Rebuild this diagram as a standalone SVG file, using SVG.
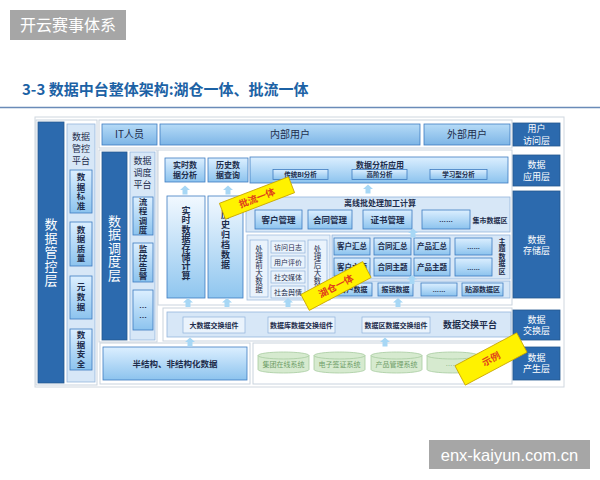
<svg xmlns="http://www.w3.org/2000/svg" width="600" height="480" viewBox="0 0 600 480">
<defs>
<linearGradient id="gL" x1="0" y1="0" x2="0" y2="1"><stop offset="0" stop-color="#dcefff"/><stop offset="1" stop-color="#8cc3ee"/></linearGradient>
<linearGradient id="gT" x1="0" y1="0" x2="0" y2="1"><stop offset="0" stop-color="#b6dbf7"/><stop offset="1" stop-color="#7db5e6"/></linearGradient>
<linearGradient id="gV" x1="0" y1="0" x2="0" y2="1"><stop offset="0" stop-color="#f2f9ff"/><stop offset="1" stop-color="#8fc6ef"/></linearGradient>
<path id="arr" d="M0,-4.5 L5,0 L2.5,0 L2.5,4.5 L-2.5,4.5 L-2.5,0 L-5,0 Z"/>
</defs>
<style>
text{font-family:"Noto Sans CJK SC","Liberation Sans",sans-serif}
.fr{fill:#fff;stroke:#c9d3de;stroke-width:1}
.dk{fill:#2c6aae;stroke:#24588f;stroke-width:.8}
.pn{fill:#d7e7f7;stroke:#95b6dc;stroke-width:.8}
.pl{fill:#e6f0fa;stroke:#a3bfdf;stroke-width:.8}
.bx{fill:url(#gL);stroke:#3e7cc0;stroke-width:.8}
.bt{fill:url(#gT);stroke:#3e7cc0;stroke-width:.8}
.bv{fill:url(#gV);stroke:#3e7cc0;stroke-width:.8}
.sb{fill:#eaf3fc;stroke:#8fb2da;stroke-width:.7}
.w{fill:#fff;text-anchor:middle}
.t{fill:#1e2d4c;text-anchor:middle;font-weight:bold}
.n{fill:#1e2d4c;text-anchor:middle}
.v{writing-mode:vertical-rl;text-anchor:middle}
.el{font-family:"Liberation Sans",sans-serif}
.cy{fill:#d6eacf;stroke:#a7cc9f;stroke-width:.8}
.ct{fill:#6f9e68;text-anchor:middle;font-size:7px}
.tag{fill:#fff200;stroke:#c9a400;stroke-width:.8}
.tt{fill:#e0401c;font-weight:bold;font-size:9.5px;text-anchor:middle}
.ar{fill:#a7d7f5}
</style>
<rect width="600" height="480" fill="#fff"/>

<g id="header">
<rect x="10" y="10" width="116" height="30" fill="#a6a6a6"/>
<text x="68" y="31" class="w" font-size="16">开云赛事体系</text>
</g>
<g id="title">
<text x="22" y="95" font-size="15" font-weight="bold" fill="#1c62a5">3-3 数据中台整体架构:湖仓一体、批流一体</text>
<line x1="0" y1="107.5" x2="600" y2="107.5" stroke="#6a8bb8" stroke-width="1.5"/>
</g>

<rect x="35" y="117" width="529" height="270" fill="none" stroke="#d0d7df"/>

<g id="mgmt-layer">
<rect x="36" y="120" width="61" height="265" class="fr"/>
<rect x="38" y="122" width="26" height="261" class="dk"/>
<text x="51" y="253" class="w v" font-size="13" letter-spacing="1">数据管控层</text>
</g>
<g id="mgmt-platform">
<rect x="67" y="124" width="28" height="258" class="pn"/>
<text x="81" y="140.2" class="n" font-size="9">数据</text>
<text x="81" y="152.2" class="n" font-size="9">管控</text>
<text x="81" y="164.2" class="n" font-size="9">平台</text>
</g>
<g id="data-standard">
<rect x="70" y="170" width="22" height="43" class="bx"/>
<text x="81" y="192" class="t v" font-size="8.5" letter-spacing="1">数据标准</text>
</g>
<g id="data-quality">
<rect x="70" y="222" width="22" height="44" class="bx"/>
<text x="81" y="244.5" class="t v" font-size="8.5" letter-spacing="1">数据质量</text>
</g>
<g id="metadata">
<rect x="70" y="276" width="22" height="43" class="bx"/>
<text x="81" y="298" class="t v" font-size="8.5" letter-spacing="1.5">元数据</text>
</g>
<g id="data-security">
<rect x="70" y="329" width="22" height="41" class="bx"/>
<text x="81" y="350" class="t v" font-size="8.5" letter-spacing="1">数据安全</text>
</g>

<g id="frames">
<rect x="99" y="120" width="413" height="28" class="fr"/>
<rect x="99" y="150" width="58" height="192" class="fr"/>
<rect x="158" y="150" width="354" height="155" class="fr"/>
<rect x="163" y="308" width="349" height="33" class="fr"/>
<rect x="100" y="343" width="150" height="41" class="fr"/>
<rect x="253" y="343" width="259" height="41" class="fr"/>
</g>

<g id="it-staff">
<rect x="102" y="124" width="55" height="21" class="bt"/>
<text x="129.5" y="138" class="n" font-size="10">IT人员</text>
</g>
<g id="internal-users">
<rect x="160" y="124" width="260" height="21" class="bt"/>
<text x="290" y="138" class="n" font-size="10">内部用户</text>
</g>
<g id="external-users">
<rect x="424" y="124" width="86" height="21" class="bt"/>
<text x="467" y="138" class="n" font-size="10">外部用户</text>
</g>

<g id="layer-access">
<rect x="513" y="123" width="47" height="23" class="dk"/>
<text x="536.5" y="132" class="w" font-size="9">用户</text>
<text x="536.5" y="143.5" class="w" font-size="9">访问层</text>
</g>
<g id="layer-app">
<rect x="513" y="155" width="47" height="31" class="dk"/>
<text x="536.5" y="168" class="w" font-size="9">数据</text>
<text x="536.5" y="179.5" class="w" font-size="9">应用层</text>
</g>
<g id="layer-storage">
<rect x="513" y="191" width="47" height="107" class="dk"/>
<text x="536.5" y="242.7" class="w" font-size="9">数据</text>
<text x="536.5" y="254.2" class="w" font-size="9">存储层</text>
</g>
<g id="layer-exchange">
<rect x="513" y="310" width="47" height="30" class="dk"/>
<text x="536.5" y="322.5" class="w" font-size="9">数据</text>
<text x="536.5" y="334" class="w" font-size="9">交换层</text>
</g>
<g id="layer-source">
<rect x="513" y="347" width="47" height="33" class="dk"/>
<text x="536.5" y="360.7" class="w" font-size="9">数据</text>
<text x="536.5" y="372.2" class="w" font-size="9">产生层</text>
</g>

<g id="sched-layer">
<rect x="102" y="152" width="25" height="188" class="dk"/>
<text x="114.5" y="248" class="w v" font-size="13" letter-spacing="0.5">数据调度层</text>
</g>
<g id="sched-platform">
<rect x="130" y="152" width="25" height="188" class="pn"/>
<text x="142.5" y="164.2" class="n" font-size="9">数据</text>
<text x="142.5" y="176.2" class="n" font-size="9">调度</text>
<text x="142.5" y="188.2" class="n" font-size="9">平台</text>
</g>
<g id="flow-sched">
<rect x="133" y="197" width="20" height="38" class="bx"/>
<text x="143" y="216.5" class="t v" font-size="8.5" letter-spacing="1">流程调度</text>
</g>
<g id="monitor-alert">
<rect x="133" y="243" width="20" height="39" class="bx"/>
<text x="143" y="263" class="t v" font-size="8.5" letter-spacing="0.5">监控告警</text>
</g>
<g id="sched-more">
<rect x="133" y="290" width="20" height="40" class="bx"/>
<text x="143" y="307.5" class="t el" font-size="8">…</text>
<text x="143" y="317.5" class="t el" font-size="8">…</text>
</g>

<g id="rt-analysis">
<rect x="165" y="158" width="40" height="24" class="bx"/>
<text class="t" font-size="8"><tspan x="185" y="168">实时数</tspan><tspan x="185" y="178">据分析</tspan></text>
</g>
<g id="hist-query">
<rect x="208" y="158" width="40" height="24" class="bx"/>
<text class="t" font-size="8"><tspan x="228" y="168">历史数</tspan><tspan x="228" y="178">据查询</tspan></text>
</g>
<g id="data-analysis-app">
<rect x="250" y="157" width="258" height="26" class="bx"/>
<text x="380" y="167.5" class="t" font-size="8">数据分析应用</text>
<rect x="273" y="169.5" width="55" height="10" class="bx"/>
<text x="300.5" y="177.2" class="t" font-size="6.5">传统BI分析</text>
<rect x="352" y="169.5" width="55" height="10" class="bx"/>
<text x="379.5" y="177.2" class="t" font-size="6.5">高阶分析</text>
<rect x="430" y="169.5" width="57" height="10" class="bx"/>
<text x="458.5" y="177.2" class="t" font-size="6.5">学习型分析</text>
</g>

<g id="rt-storage">
<rect x="167" y="196" width="38" height="102" class="bv"/>
<text x="186" y="243" class="t v" font-size="9" letter-spacing="0.2">实时数据存储计算</text>
</g>
<g id="hist-archive">
<rect x="208" y="196" width="35" height="102" class="bv"/>
<text x="225.5" y="240" class="t v" font-size="9" letter-spacing="1">历史归档数据</text>
</g>

<g id="offline-batch">
<rect x="246" y="197" width="264" height="35" class="pn"/>
<text x="380" y="206" class="t" font-size="8">离线批处理加工计算</text>
<rect x="255" y="210" width="47" height="19" class="bx"/>
<text x="278.5" y="222.5" class="t" font-size="8.5">客户管理</text>
<rect x="308" y="210" width="44" height="19" class="bx"/>
<text x="330" y="222.5" class="t" font-size="8.5">合同管理</text>
<rect x="363" y="210" width="49" height="19" class="bx"/>
<text x="387.5" y="222.5" class="t" font-size="8.5">证书管理</text>
<rect x="422" y="210" width="48" height="19" class="bx"/>
<text x="446" y="222" class="t el" font-size="7">……</text>
<text x="490" y="222.5" class="t" font-size="7">集市数据区</text>
</g>

<g id="bigdata-process">
<rect x="247" y="235" width="83" height="65" class="pl"/>
<rect x="250" y="240" width="18" height="57" class="sb"/>
<text x="259" y="269" class="n v" font-size="7.5" letter-spacing="0.5">处理前大数据</text>
<rect x="271" y="241" width="34" height="12" class="sb"/>
<text x="288" y="250" class="n" font-size="7">访问日志</text>
<rect x="271" y="256" width="34" height="12" class="sb"/>
<text x="288" y="265" class="n" font-size="7">用户评价</text>
<rect x="271" y="271" width="34" height="12" class="sb"/>
<text x="288" y="280" class="n" font-size="7">社交媒体</text>
<rect x="271" y="286" width="34" height="12" class="sb"/>
<text x="288" y="295" class="n" font-size="7">社会舆情</text>
<rect x="308" y="240" width="19" height="57" class="sb"/>
<text x="317.5" y="269" class="n v" font-size="7.5" letter-spacing="0.5">处理后大数据</text>
</g>

<g id="subject-zone">
<rect x="332" y="235" width="178" height="44" class="pn"/>
<rect x="334" y="238" width="36" height="17" class="bx"/>
<text x="352" y="249" class="t" font-size="7.5">客户汇总</text>
<rect x="374" y="238" width="37" height="17" class="bx"/>
<text x="392.5" y="249" class="t" font-size="7.5">合同汇总</text>
<rect x="414" y="238" width="36" height="17" class="bx"/>
<text x="432" y="249" class="t" font-size="7.5">产品汇总</text>
<rect x="455" y="238" width="37" height="17" class="bx"/>
<text x="473.5" y="248.5" class="t el" font-size="6.5">……</text>
<rect x="334" y="258" width="36" height="18" class="bx"/>
<text x="352" y="270" class="t" font-size="7.5">客户主题</text>
<rect x="374" y="258" width="37" height="18" class="bx"/>
<text x="392.5" y="270" class="t" font-size="7.5">合同主题</text>
<rect x="414" y="258" width="36" height="18" class="bx"/>
<text x="432" y="270" class="t" font-size="7.5">产品主题</text>
<rect x="455" y="258" width="37" height="18" class="bx"/>
<text x="473.5" y="269.5" class="t el" font-size="6.5">……</text>
<text x="502" y="256.5" class="t v" font-size="7" letter-spacing="0.5">主题数据区</text>
</g>

<g id="source-zone">
<rect x="332" y="281" width="178" height="17" class="pn"/>
<rect x="335" y="283" width="37" height="13" class="bx"/>
<text x="353.5" y="292" class="t" font-size="7">客户数据</text>
<rect x="378" y="283" width="35" height="13" class="bx"/>
<text x="395.5" y="292" class="t" font-size="7">报销数据</text>
<rect x="421" y="283" width="36" height="13" class="bx"/>
<text x="439" y="291.5" class="t el" font-size="6.5">……</text>
<rect x="462" y="283" width="41" height="13" class="bx"/>
<text x="482.5" y="292" class="t" font-size="7">贴源数据区</text>
</g>

<g id="exchange-platform">
<rect x="167" y="312" width="344" height="25" class="pn"/>
<rect x="183" y="317" width="62" height="16" class="sb"/>
<text x="214" y="327.5" class="t" font-size="7">大数据交换组件</text>
<rect x="268" y="317" width="67" height="16" class="sb"/>
<text x="301.5" y="327.5" class="t" font-size="7">数据库数据交换组件</text>
<rect x="362" y="317" width="68" height="16" class="sb"/>
<text x="396" y="327.5" class="t" font-size="7">数据区数据交换组件</text>
<text x="470" y="328" class="t" font-size="9">数据交换平台</text>
</g>

<g id="semi-structured">
<rect x="103" y="347" width="144" height="33" class="bx"/>
<text x="175" y="366.5" class="t" font-size="8.5">半结构、非结构化数据</text>
</g>

<g id="sys-group">
<path class="cy" d="M258,355.5 v14 a25.5,3.5 0 0 0 51,0 v-14 a25.5,3.5 0 0 0 -51,0 z M258,355.5 a25.5,3.5 0 0 0 51,0"/>
<text x="283.5" y="366.5" class="ct">集团在线系统</text>
</g>
<g id="sys-esign">
<path class="cy" d="M314,355.5 v14 a25.5,3.5 0 0 0 51,0 v-14 a25.5,3.5 0 0 0 -51,0 z M314,355.5 a25.5,3.5 0 0 0 51,0"/>
<text x="339.5" y="366.5" class="ct">电子签证系统</text>
</g>
<g id="sys-product">
<path class="cy" d="M371,355.5 v14 a25.5,3.5 0 0 0 51,0 v-14 a25.5,3.5 0 0 0 -51,0 z M371,355.5 a25.5,3.5 0 0 0 51,0"/>
<text x="396.5" y="366.5" class="ct">产品管理系统</text>
</g>
<g id="sys-more">
<path class="cy" d="M427,355.5 v14 a25.5,3.5 0 0 0 51,0 v-14 a25.5,3.5 0 0 0 -51,0 z M427,355.5 a25.5,3.5 0 0 0 51,0"/>
<text x="452.5" y="366" class="ct el">……</text>
</g>

<g id="connectors" class="ar">
<use href="#arr" x="185" y="190"/>
<use href="#arr" x="228" y="190"/>
<use href="#arr" x="368" y="189"/>
<use href="#arr" x="413" y="233"/>
<use href="#arr" x="412" y="279.5"/>
<use href="#arr" x="398" y="302.5"/>
<use href="#arr" x="188" y="302.5"/>
<use href="#arr" x="227" y="302.5"/>
<use href="#arr" x="288" y="302.5"/>
<use href="#arr" x="190" y="342"/>
<use href="#arr" x="385" y="342"/>
</g>

<g id="tag-batch-stream" transform="translate(257,198) rotate(-21)">
<rect x="-37" y="-8.5" width="74" height="17" class="tag"/>
<text x="0" y="3.5" class="tt">批流一体</text>
</g>
<g id="tag-lakehouse" transform="translate(336,286) rotate(-28)">
<rect x="-35" y="-9" width="70" height="18" class="tag"/>
<text x="0" y="3.5" class="tt">湖仓一体</text>
</g>
<g id="tag-example" transform="translate(491,359) rotate(-28)">
<rect x="-35" y="-11" width="70" height="22" class="tag"/>
<text x="0" y="3.5" class="tt">示例</text>
</g>

<g id="watermark">
<rect x="429" y="440" width="161" height="29" fill="#a6a6a6"/>
<text x="509.5" y="460.5" class="w" font-size="16.5" style="font-family:'Liberation Sans',sans-serif">enx-kaiyun.com.cn</text>
</g>
</svg>
